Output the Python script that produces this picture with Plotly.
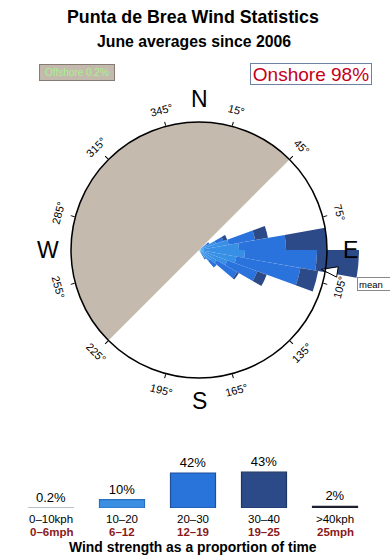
import numpy as np
import plotly.graph_objects as go

W, H = 390, 560

# ---------------- data ----------------
directions = [55, 65, 75, 85, 95, 105, 115, 125, 135, 145]   # bin centres (deg), 10 deg bins
seg_0_10 = [2, 2, 2, 2, 2, 2, 2, 2, 2, 2]
seg_10_20 = [7, 16, 28, 38, 44, 36, 28, 18, 12, 7]
seg_20_30 = [3, 8, 27, 47, 72, 65, 32, 24, 9, 2]
seg_30_40 = [0, 4, 13, 41, 42, 18, 10, 2, 0, 0]
seg_40 = [0, 0, 0, 0, 0, 0, 0, 0, 0, 0]

offshore_sector = [315]      # centre of offshore sector (deg)
offshore_width = [180]
mean_dir = [99]

speed_kph = ["0–10kph", "10–20", "20–30", "30–40", ">40kph"]
speed_mph = ["0–6mph", "6–12", "12–19", "19–25", "25mph"]
speed_pct = [0.2, 10, 42, 43, 2]
speed_pct_text = ["0.2%", "10%", "42%", "43%", "2%"]

angle_ticks = [15, 45, 75, 105, 135, 165, 195, 225, 255, 285, 315, 345]
compass = ["N", "E", "S", "W"]
compass_deg = [0, 90, 180, 270]

# ---------------- geometry helpers ----------------
CX, CY = 199, 250
R_FRAME = 128
R_OUTER = 165
FONT = "Liberation Sans, Arial, sans-serif"

def fx(x):
    return x / W

def fy(y):
    return 1 - y / H

def polar_pos(b, r):
    t = np.deg2rad(b)
    return CX + r * np.sin(t), CY - r * np.cos(t)

rose_colors = ["#46c6f0", "#3890e6", "#2a72dc", "#2c4a88", "#1b1f2e"]
legend_colors = ["#a9b3bb", "#3b8fe3", "#2874db", "#2c4a88", "#1c2030"]
legend_lines = ["#a9b3bb", "#2a6fbf", "#1f4f9a", "#1d3563", "#1c2030"]

fig = go.Figure()

# offshore sector
fig.add_trace(go.Barpolar(theta=offshore_sector, r=[R_FRAME], width=offshore_width,
                          marker=dict(color="#c5baae", line=dict(width=0)),
                          subplot="polar", showlegend=False, hoverinfo="skip"))

for seg, col in zip([seg_0_10, seg_10_20, seg_20_30, seg_30_40, seg_40], rose_colors):
    fig.add_trace(go.Barpolar(theta=directions, r=seg, width=[10] * len(directions),
                              marker=dict(color=col, line=dict(width=0)),
                              subplot="polar", showlegend=False))

# mean arrow on frame subplot
fig.add_trace(go.Scatterpolar(theta=mean_dir, r=[R_FRAME - 4], mode="markers",
                              marker=dict(symbol="arrow", size=17, angle=mean_dir[0] + 180,
                                          color="white", line=dict(color="black", width=1)),
                              cliponaxis=False, subplot="polar2", showlegend=False))

# legend bar chart
fig.add_trace(go.Bar(x=list(range(len(speed_pct))), y=speed_pct, width=45 / 71,
                     marker=dict(color=legend_colors, line=dict(color=legend_lines, width=1.2)),
                     text=speed_pct_text, textposition="outside", cliponaxis=False,
                     textfont=dict(size=13, color="black", family=FONT),
                     showlegend=False, xaxis="x", yaxis="y"))

C = dict(xanchor="center", yanchor="middle", showarrow=False)
annotations = []
# titles
annotations.append(dict(text="<b>Punta de Brea Wind Statistics</b>", x=fx(193), y=fy(17),
                        xref="paper", yref="paper", **C,
                        font=dict(size=17.8, color="black", family=FONT)))
annotations.append(dict(text="<b>June averages since 2006</b>", x=fx(194), y=fy(42),
                        xref="paper", yref="paper", **C,
                        font=dict(size=15.8, color="black", family=FONT)))
annotations.append(dict(text="Offshore 0.2%", x=fx(77), y=fy(73), xref="paper", yref="paper",
                        **C, bgcolor="#c4b9ad", bordercolor="#857b72", borderwidth=1,
                        borderpad=1, width=72, height=13,
                        font=dict(size=10, color="#a6f28c", family=FONT)))
annotations.append(dict(text="Onshore 98%", x=fx(311), y=fy(74), xref="paper", yref="paper",
                        **C, bgcolor="white", bordercolor="#6d82a3", borderwidth=1,
                        borderpad=1, width=118, height=18,
                        font=dict(size=19, color="#c4001a", family=FONT)))
annotations.append(dict(text="mean", x=fx(357), y=fy(284), xref="paper", yref="paper",
                        xanchor="left", yanchor="middle", showarrow=False, bgcolor="white",
                        bordercolor="#888888", borderwidth=1, borderpad=1, width=40, height=10,
                        align="left", font=dict(size=9.5, color="black", family=FONT)))

# angle labels
for b in angle_ticks:
    x, y = polar_pos(b, 145)
    ang = ((b + 90) % 180) - 90
    annotations.append(dict(text=f"{b}°", x=fx(x), y=fy(y), xref="paper", yref="paper",
                            **C, textangle=ang,
                            font=dict(size=11, color="black", family=FONT)))
# compass letters
for lab, b in zip(compass, compass_deg):
    x, y = polar_pos(b, 151)
    annotations.append(dict(text=lab, x=fx(x), y=fy(y), xref="paper", yref="paper",
                            **C, font=dict(size=23, color="black", family=FONT)))

# legend category labels
for i, (k, m) in enumerate(zip(speed_kph, speed_mph)):
    annotations.append(dict(text=k, x=i, y=fy(518.5), xref="x", yref="paper", **C,
                            font=dict(size=11.5, color="black", family=FONT)))
    annotations.append(dict(text=f"<b>{m}</b>", x=i, y=fy(531.5), xref="x", yref="paper",
                            **C, font=dict(size=11.5, color="#8b1a1a", family=FONT)))
annotations.append(dict(text="<b>Wind strength as a proportion of time</b>", x=fx(193), y=fy(547),
                        xref="paper", yref="paper", **C,
                        font=dict(size=13.9, color="black", family=FONT)))

fig.update_layout(
    width=W, height=H, margin=dict(l=0, r=0, t=0, b=0),
    paper_bgcolor="white", plot_bgcolor="white",
    font=dict(family=FONT),
    polar=dict(domain=dict(x=[fx(CX - R_OUTER), fx(CX + R_OUTER)],
                           y=[fy(CY + R_OUTER), fy(CY - R_OUTER)]),
               bgcolor="rgba(0,0,0,0)", barmode="stack",
               radialaxis=dict(range=[0, R_OUTER], visible=False),
               angularaxis=dict(rotation=90, direction="clockwise", visible=False)),
    polar2=dict(domain=dict(x=[fx(CX - R_FRAME), fx(CX + R_FRAME)],
                            y=[fy(CY + R_FRAME), fy(CY - R_FRAME)]),
                bgcolor="rgba(0,0,0,0)",
                radialaxis=dict(range=[0, R_FRAME], visible=False),
                angularaxis=dict(rotation=90, direction="clockwise", showline=True,
                                 linecolor="black", linewidth=1.5, showgrid=False,
                                 tickmode="array", tickvals=angle_ticks, ticks="outside",
                                 ticklen=4, tickcolor="black", showticklabels=False)),
    xaxis=dict(domain=[0, 1], range=[-51 / 71, (W - 51) / 71], visible=False, fixedrange=True),
    yaxis=dict(domain=[fy(508), fy(455)], range=[0, 53 / 0.833], visible=False, fixedrange=True),
    annotations=annotations,
)

fig.write_html("out.html")
